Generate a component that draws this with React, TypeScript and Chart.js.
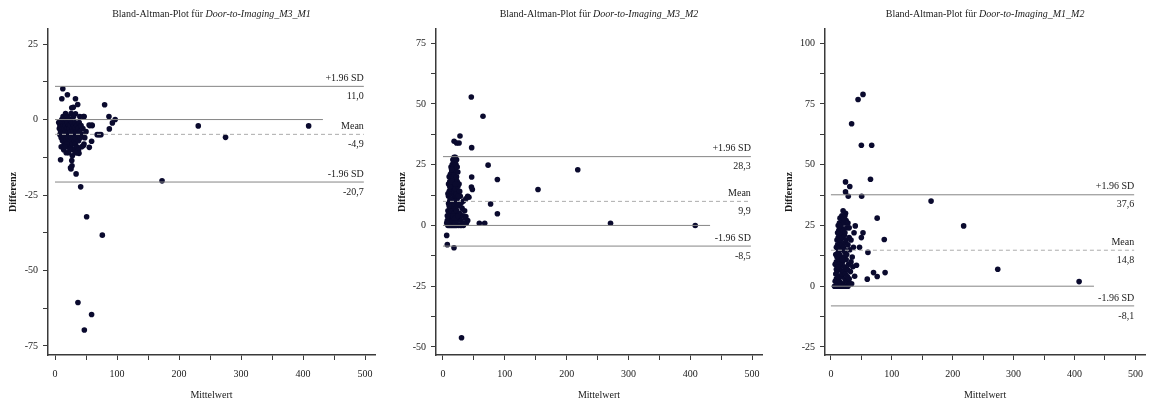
import React, { useEffect, useRef } from 'react';
import Chart from 'chart.js/auto';

// ---------- data ----------
const panelTitles = ['Door-to-Imaging_M3_M1', 'Door-to-Imaging_M3_M2', 'Door-to-Imaging_M1_M2'];
const limitLabels = ['+1.96 SD', 'Mean', '-1.96 SD'];

const m3m1Limits = [11.0, -4.9, -20.7];
const m3m2Limits = [28.3, 9.9, -8.5];
const m1m2Limits = [37.6, 14.8, -8.1];

const limitLineX = [0, 498];
const zeroLineX = [0, 432];

const m3m1Points: number[][] = [
  [12.6, 10.2], [11, 6.9], [20, 8.2], [33, 6.9], [36.6, 5], [27, 3.9], [47, 1], [80, 4.9], [87, 1], [97, 0],
  [92.5, -1.1], [87.6, -3.1], [56, -2], [60, -2], [231, -2.1], [409, -2.1], [275, -5.9], [68, -5], [71, -5], [74, -5],
  [9, -13.3], [25.8, -16.4], [27.4, -15.3], [34, -18], [41.4, -22.3], [51, -32.2], [76.3, -38.3], [172.6, -20.3],
  [46.8, -8.1], [55.3, -9.2], [59, -7.2], [38.7, -11.2], [37, -60.6], [59, -64.6], [47.3, -69.7],
  [33, 1.9], [29.5, 4.1], [40, 1], [45.7, 1], [55, -1.8], [59.5, -1.8], [45.7, -8.6], [27, -13.6], [25, -16], [32, -10.3],
  [6, -1], [7, -3], [8, -2], [8, -5], [9, -1], [9, -4], [10, -6], [10, -2], [11, 0], [11, -3],
  [12, -7], [12, -1], [13, -4], [13, -2], [14, -5], [14, 0], [15, -3], [15, -8], [16, -1], [16, -6],
  [17, -2], [17, -4], [18, -7], [18, 0], [19, -3], [19, -5], [20, -1], [20, -9], [21, -4], [21, -6],
  [22, -2], [22, -8], [23, -3], [23, -5], [24, 0], [24, -7], [25, -4], [25, -2], [26, -6], [26, -9],
  [27, -1], [27, -5], [28, -3], [28, -8], [29, -4], [29, -6], [30, -2], [30, -10], [31, -5], [31, -7],
  [32, -3], [32, -1], [33, -6], [33, -8], [34, -4], [35, -2], [35, -9], [36, -5], [37, -3], [38, -7],
  [39, -1], [40, -4], [41, -6], [42, -2], [43, -9], [44, -5], [13, 1], [17, 2], [21, 1], [26, 2],
  [30, 1], [10, -9], [14, -10], [18, -11], [22, -11], [28, -12], [24, -10], [19, -8], [16, -9], [12, -5],
  [38, -10], [36, -11], [33, -11], [45, -3], [48, -6], [50, -4],
];

const m3m2Points: number[][] = [
  [45.8, 52.8], [64.7, 44.9], [27.5, 36.8], [18, 34.6], [22, 33.9], [26, 33.9], [46.4, 32], [73, 24.8], [88, 18.9], [46.4, 19.9],
  [46, 15.8], [47.5, 14.8], [153.7, 14.8], [218, 22.9], [77, 8.8], [88, 4.8], [58.8, 0.9], [67.5, 0.9], [271, 0.9], [408, 0],
  [6, -4.1], [7, -7.9], [17.8, -9.2], [30, -46.2], [42, 11.6], [37, 11], [40, 12], [37, 3.7], [38, 1], [33, 0],
  [8, 0], [10, 0], [12, 0], [14, 0], [16, 0], [18, 0], [20, 0], [22, 0], [25, 0], [28, 0], [30, 0],
  [7, 2], [9, 3], [11, 1], [13, 4], [15, 2], [17, 3], [19, 1], [21, 5], [23, 2], [26, 3], [29, 2], [32, 4],
  [8, 6], [10, 5], [12, 7], [14, 6], [16, 8], [18, 5], [20, 7], [22, 6], [24, 8], [27, 5], [31, 7],
  [9, 9], [11, 10], [13, 8], [15, 11], [17, 9], [19, 12], [21, 10], [23, 11], [25, 9], [28, 12], [33, 10],
  [8, 13], [10, 14], [12, 15], [14, 13], [16, 16], [18, 14], [20, 15], [22, 13], [24, 16], [27, 14],
  [9, 17], [11, 18], [13, 17], [15, 19], [17, 18], [19, 17], [21, 19], [23, 18], [26, 17],
  [10, 20], [12, 21], [14, 22], [16, 20], [18, 21], [20, 23], [22, 20], [24, 22],
  [13, 24], [15, 25], [17, 24], [19, 26], [21, 25], [23, 24],
  [16, 27], [18, 28], [20, 28], [22, 27], [14, 23],
  [6, 1], [7, 4], [9, 12], [11, 16], [25, 12], [29, 9], [35, 6], [36, 3], [40, 2], [34, 1],
  [12, 11], [16, 4], [20, 3], [24, 4], [18, 10], [14, 18], [20, 17], [10, 8],
];

const m1m2Points: number[][] = [
  [34, 66.8], [44.6, 76.8], [52.7, 78.9], [50, 58], [67, 58], [65, 44], [24, 42.9], [31, 41], [24, 38.8], [28.5, 37],
  [50.5, 37], [164.5, 35], [76, 28], [218, 24.8], [87.6, 19.2], [60.8, 13.9], [40, 24.8], [52.7, 22], [50, 20], [47, 16],
  [274, 7], [407.6, 1.9], [59.7, 2.9], [70, 5.6], [76, 4], [89, 5.6], [39, 4.1], [42, 8.6],
  [6, 0], [8, 0], [10, 0], [13, 0], [16, 0], [19, 0], [22, 0], [25, 0], [28, 0],
  [7, 2], [9, 3], [11, 1], [14, 2], [17, 4], [20, 1], [23, 3], [26, 2], [30, 3], [34, 1],
  [8, 5], [10, 6], [12, 4], [15, 7], [18, 5], [21, 6], [24, 5], [27, 7], [32, 6], [36, 8],
  [7, 9], [9, 10], [11, 8], [13, 11], [16, 9], [19, 10], [22, 8], [25, 11], [29, 9], [33, 10],
  [8, 13], [10, 12], [12, 14], [14, 13], [17, 15], [20, 12], [23, 14], [26, 13], [31, 15],
  [9, 16], [11, 17], [13, 16], [15, 18], [18, 17], [21, 16], [24, 18], [28, 17],
  [10, 19], [12, 20], [14, 21], [16, 19], [19, 20], [22, 21], [25, 19], [30, 20],
  [11, 22], [13, 23], [15, 22], [17, 24], [20, 23], [23, 22], [26, 24],
  [12, 25], [14, 26], [16, 25], [19, 27], [22, 26], [25, 27],
  [15, 28], [18, 29], [21, 28], [24, 30], [20, 31], [23, 29],
  [35, 12], [37, 16], [33, 19], [30, 24], [38, 22], [28, 26], [9, 7], [14, 9], [18, 11], [22, 15],
  [27, 4], [31, 1], [17, 1], [12, 8],
];

const xRanges = [[-11.3, 516], [-11.3, 516], [-9.7, 516]];
const yRanges = [[-78, 30], [-53.3, 80.8], [-28.3, 105.8]];
const yStep = 12.5;
const yMajor = 25;
const xStep = 50;
const xMajor = 100;

// ---------- styles ----------
const SERIF = '"Liberation Serif", "Times New Roman", serif';
const TEXT = '#1a1a1a';
const AXIS = '#3a3a3a';
const POINT = '#0a0a2e';
const LIMIT = '#858585';
const MEAN = '#acacac';

const layouts = [
  { left: 0, axisW: 48, padRight: 9, yTitlePad: 7 },
  { left: 384, axisW: 52, padRight: 6, yTitlePad: 12 },
  { left: 767, axisW: 58, padRight: 1, yTitlePad: 16 },
];

const W = 384;
const H = 405;

function fmt(v: number) {
  return v.toFixed(1).replace('.', ',');
}

function Panel({ idx, points, limits }: { idx: number; points: number[][]; limits: number[] }) {
  const ref = useRef<HTMLCanvasElement | null>(null);
  useEffect(() => {
    if (!ref.current) return;
    const lay = layouts[idx];
    const title = panelTitles[idx];

    const overlay = {
      id: 'overlay' + idx,
      afterDatasetsDraw(chart: any) {
        const { ctx, scales, chartArea } = chart;
        const xs = scales.x;
        const ys = scales.y;
        ctx.save();
        ctx.fillStyle = TEXT;
        ctx.font = `10px ${SERIF}`;
        ctx.textAlign = 'right';
        const xr = xs.getPixelForValue(limitLineX[1]);
        limits.forEach((v, i) => {
          const yp = ys.getPixelForValue(v);
          ctx.textBaseline = 'bottom';
          ctx.fillText(limitLabels[i], xr, yp - 3);
          ctx.textBaseline = 'top';
          ctx.fillText(fmt(v), xr, yp + 5);
        });
        // title
        const part1 = 'Bland-Altman-Plot für ';
        ctx.font = `10px ${SERIF}`;
        const w1 = ctx.measureText(part1).width;
        ctx.font = `italic 10px ${SERIF}`;
        const w2 = ctx.measureText(title).width;
        const cx = (chartArea.left + chartArea.right) / 2;
        const x0 = cx - (w1 + w2) / 2;
        ctx.textAlign = 'left';
        ctx.textBaseline = 'middle';
        ctx.font = `10px ${SERIF}`;
        ctx.fillText(part1, x0, 14);
        ctx.font = `italic 10px ${SERIF}`;
        ctx.fillText(title, x0 + w1, 14);
        ctx.restore();
      },
    };

    const lineDs = (y: number, xr: number[], color: string, dash: number[] = []) => ({
      type: 'scatter',
      data: [{ x: xr[0], y }, { x: xr[1], y }],
      showLine: true,
      borderColor: color,
      borderWidth: 1,
      borderDash: dash,
      pointRadius: 0,
      order: 0,
    });

    const chart = new Chart(ref.current, {
      type: 'scatter',
      data: {
        datasets: [
          lineDs(limits[0], limitLineX, LIMIT),
          lineDs(limits[1], limitLineX, MEAN, [4, 3]),
          lineDs(limits[2], limitLineX, LIMIT),
          lineDs(0, zeroLineX, LIMIT),
          {
            type: 'scatter',
            data: points.map(([x, y]) => ({ x, y })),
            backgroundColor: POINT,
            borderColor: POINT,
            borderWidth: 0,
            pointRadius: 2.8,
            order: 1,
          },
        ] as any,
      },
      options: {
        animation: false,
        responsive: false,
        devicePixelRatio: 1,
        layout: { padding: { top: 29, left: 0, right: lay.padRight, bottom: 0 } },
        plugins: { legend: { display: false }, tooltip: { enabled: false }, title: { display: false } },
        scales: {
          x: {
            type: 'linear',
            min: xRanges[idx][0],
            max: xRanges[idx][1],
            afterFit: (s: any) => { s.height = 50; },
            ticks: {
              stepSize: xStep,
              includeBounds: false,
              autoSkip: false,
              maxRotation: 0,
              padding: 8,
              color: TEXT,
              font: { family: SERIF, size: 10 },
              callback: (v: any) => (Math.abs(v % xMajor) < 1e-6 ? String(v) : ''),
            },
            grid: { drawOnChartArea: false, tickLength: 5, color: AXIS, tickWidth: 1 },
            border: { color: AXIS, width: 1.5 },
            title: { display: true, text: 'Mittelwert', color: TEXT, font: { family: SERIF, size: 10 }, padding: { top: 0, bottom: 4 } },
          },
          y: {
            type: 'linear',
            min: yRanges[idx][0],
            max: yRanges[idx][1],
            afterFit: (s: any) => { s.width = lay.axisW; },
            ticks: {
              stepSize: yStep,
              includeBounds: false,
              autoSkip: false,
              padding: 5,
              color: TEXT,
              font: { family: SERIF, size: 10 },
              callback: (v: any) => (Math.abs(v % yMajor) < 1e-6 ? String(v) : ''),
            },
            grid: { drawOnChartArea: false, tickLength: 5, color: AXIS, tickWidth: 1 },
            border: { color: AXIS, width: 1.5 },
            title: { display: true, text: 'Differenz', color: TEXT, font: { family: SERIF, size: 10, weight: 'bold' }, padding: { top: lay.yTitlePad, bottom: 0 } },
          },
        },
      } as any,
      plugins: [overlay],
    });
    return () => chart.destroy();
  }, [idx, points, limits]);

  const lay = layouts[idx];
  return (
    <canvas
      ref={ref}
      width={W}
      height={H}
      style={{ position: 'absolute', left: lay.left, top: 0, width: W, height: H }}
    />
  );
}

export default function App() {
  return (
    <div style={{ position: 'absolute', left: 0, top: 0, width: 1151, height: 405, background: '#fff', overflow: 'hidden' }}>
      <Panel idx={0} points={m3m1Points} limits={m3m1Limits} />
      <Panel idx={1} points={m3m2Points} limits={m3m2Limits} />
      <Panel idx={2} points={m1m2Points} limits={m1m2Limits} />
    </div>
  );
}
